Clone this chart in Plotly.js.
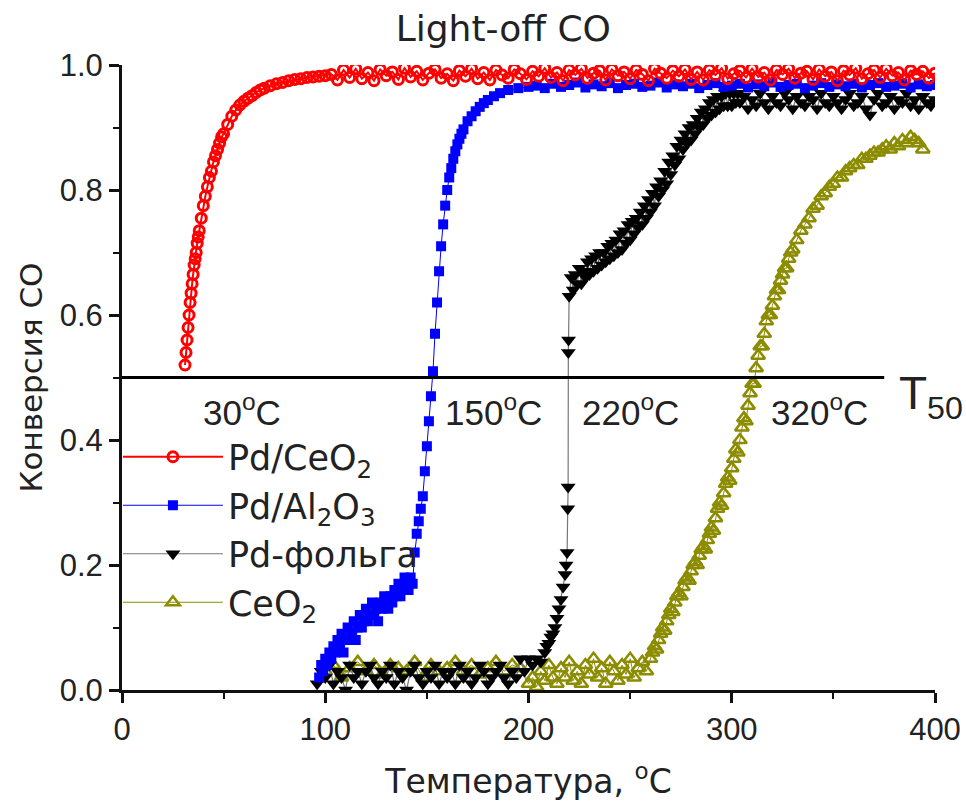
<!DOCTYPE html>
<html><head><meta charset="utf-8">
<script src="https://cdn.plot.ly/plotly-3.0.1.min.js"></script>
<style>html,body{margin:0;padding:0;background:#fff;}#chart{width:966px;height:802px;}</style>
</head><body><div id="chart"></div>
<script>
// ---- data ----
const seriesNames = ['Pd/CeO<sub>2</sub>', 'Pd/Al<sub>2</sub>O<sub>3</sub>', 'Pd-фольга', 'CeO<sub>2</sub>'];

const pdCeO2_T = [31,31.5,32,32.5,33,33.5,34,34.5,35,35.5,36,36.5,37,37.5,38,39,40,41,42,43,44,45,46,47,48,49,50,52,54,56,58,60,62,64,66,68,70,73,76,79,82,85,88,91,94,97,100,
103,106,109,112,115,118,121,124,127,130,133,136,139,142,145,148,151,154,157,160,163,166,169,172,175,178,181,184,187,190,193,196,199,202,205,208,211,214,217,220,223,226,229,232,235,238,241,244,247,250,253,256,259,262,265,268,271,274,277,280,283,286,289,292,295,298,301,304,307,310,313,316,319,322,325,328,331,334,337,340,343,346,349,352,355,358,361,364,367,370,373,376,379,382,385,388,391,394,397,400];
const pdCeO2_X = [0.52,0.54,0.56,0.58,0.60,0.62,0.635,0.65,0.665,0.68,0.69,0.70,0.715,0.725,0.735,0.755,0.775,0.79,0.805,0.82,0.83,0.845,0.855,0.865,0.875,0.885,0.89,0.905,0.918,0.928,0.936,0.942,0.947,0.951,0.956,0.96,0.963,0.967,0.97,0.972,0.975,0.977,0.978,0.98,0.981,0.982,0.983,
0.985,0.976,0.992,0.980,0.994,0.978,0.988,0.975,0.993,0.983,
0.989,0.977,0.995,0.981,0.990,0.976,0.987,0.993,0.979,0.986,
0.975,0.991,0.982,0.994,0.978,0.988,0.976,0.992,0.984,0.979,
0.993,0.986,0.977,0.990,0.982,0.995,0.980,0.988,0.975,0.992,
0.984,0.994,0.979,0.987,0.991,0.976,0.993,0.983,0.989,0.978,
0.992,0.985,0.975,0.994,0.987,0.979,0.991,0.982,0.993,0.977,
0.989,0.976,0.992,0.984,0.995,0.978,0.986,0.991,0.980,0.994,
0.981,0.988,0.976,0.992,0.985,0.994,0.979,0.987,0.990,0.977,
0.993,0.982,0.989,0.975,0.991,0.984,0.995,0.978,0.986,0.992,
0.980,0.994,0.983,0.988,0.976,0.991,0.985,0.990,0.979,0.987];

const pdAl2O3_T = [97,98,99,100,101,102,103,104,105,106,107,108,109,110,111,112,113,114,115,116,117,118,119,120,121,122,123,124,125,126,127,128,129,130,131,132,133,134,135,136,137,138,139,140,141,142,143,144,145,146,147,148,149,150,151,152,153,154,155,156,157,158,159,160,161,162,163,164,165,166,167,168,170,172,174,176,178,180,183,186,190,195,200,204,208,212,216,220,224,228,232,236,240,244,248,252,256,260,264,268,272,276,280,284,288,292,296,300,304,308,312,316,320,324,328,332,336,340,344,348,352,356,360,364,368,372,376,380,384,388,392,396,400];
const pdAl2O3_X = [0.02,0.04,0.03,0.05,0.04,0.06,0.05,0.07,0.06,0.08,0.07,0.09,0.06,0.08,0.10,0.08,0.09,0.11,0.08,0.10,0.12,0.10,0.11,0.13,0.11,0.12,0.14,0.12,0.13,0.11,0.14,0.13,0.15,0.14,0.13,0.15,0.14,0.16,0.15,0.17,0.15,0.16,0.18,0.17,0.16,0.18,0.17,
0.22,0.25,0.27,0.29,0.31,0.35,0.39,0.43,0.47,0.51,0.57,0.62,0.67,0.71,0.745,0.775,0.80,0.82,0.835,0.85,0.862,0.873,0.882,0.89,0.897,
0.91,0.918,0.926,0.933,0.939,0.944,0.95,0.955,0.96,0.963,0.965,
0.967,0.963,0.970,0.965,0.968,0.972,0.964,0.969,0.966,0.971,0.963,0.968,0.970,0.965,0.967,0.972,0.964,0.969,0.966,0.970,0.963,0.968,0.971,0.965,0.967,0.970,0.964,0.969,0.966,0.972,0.965,0.968,0.970,0.963,0.967,0.971,0.965,0.969,0.966,0.970,0.964,0.968,0.971,0.965,0.967,0.970,0.964,0.969,0.966,0.968];

const pdFoil_T = [96,98,100,102,104,106,108,110,112,114,116,118,120,122,124,126,128,130,132,134,136,138,140,142,144,146,148,150,152,154,156,158,160,162,164,166,168,170,172,174,176,178,180,182,184,186,188,190,192,194,196,198,200,
202,204,206,208,209,210,211,212,213,214,215,216,217,218,218.5,219,219.3,219.5,219.6,219.7,
220,221,222,223,224,225,226,227,228,229,230,231,232,233,234,235,236,237,238,239,240,241,242,243,244,245,246,247,248,249,250,251,252,253,254,255,256,257,258,259,260,261,262,263,264,265,266,267,268,269,270,271,272,273,274,275,276,277,278,279,280,281,282,283,284,285,286,287,288,289,290,291,292,293,294,295,296,297,298,299,300,301,302,303,304,
306,308,310,312,314,316,318,320,322,324,326,328,330,332,334,336,338,340,342,344,346,348,350,352,354,356,358,360,362,364,366,368,370,372,374,376,378,380,382,384,386,388,390,392,394,396,398,400];
const pdFoil_X = [0.01,0.03,0.02,0.04,0.01,0.03,0.02,0.00,0.04,0.02,0.03,0.01,0.03,0.04,0.02,0.01,0.03,0.02,0.04,0.01,0.03,0.02,0.00,0.03,0.04,0.02,0.01,0.03,0.02,0.04,0.01,0.03,0.02,0.03,0.01,0.04,0.02,0.03,0.01,0.02,0.04,0.03,0.01,0.02,0.03,0.04,0.02,0.01,0.03,0.02,0.05,0.03,0.05,
0.04,0.05,0.045,0.06,0.07,0.075,0.085,0.09,0.10,0.115,0.13,0.145,0.165,0.185,0.20,0.22,0.29,0.325,0.54,0.56,
0.63,0.66,0.64,0.665,0.65,0.675,0.65,0.67,0.66,0.685,
0.665,0.69,0.67,0.695,0.675,0.70,0.68,0.70,0.685,0.71,
0.69,0.715,0.695,0.72,0.70,0.73,0.705,0.735,0.715,0.745,
0.72,0.75,0.73,0.755,0.74,0.765,0.745,0.775,0.755,0.785,
0.765,0.795,0.775,0.805,0.79,0.815,0.80,0.83,0.81,0.845,
0.825,0.855,0.84,0.87,0.85,0.88,0.865,0.89,0.875,0.90,
0.88,0.905,0.89,0.915,0.90,0.925,0.905,0.93,0.915,0.94,
0.92,0.945,0.925,0.95,0.93,0.95,0.935,0.955,0.935,0.955,
0.935,0.955,0.94,0.955,0.94,
0.95,0.93,0.945,0.935,0.955,0.94,0.93,0.95,0.94,0.935,0.955,0.945,0.93,0.95,0.94,0.935,0.95,0.945,0.93,0.955,0.94,0.935,0.95,0.94,0.93,0.945,0.955,0.935,0.94,0.95,0.93,0.92,0.945,0.955,0.935,0.94,0.95,0.93,0.945,0.94,0.955,0.935,0.945,0.93,0.95,0.94,0.935,0.945];

const ceO2_T = [100,104,108,112,116,120,124,128,132,136,140,144,148,152,156,160,164,168,172,176,180,184,188,192,196,
200,202,204,206,208,210,212,214,216,218,220,222,224,226,228,230,232,234,236,238,240,242,244,246,248,250,252,254,256,258,
260,261,262,263,264,265,266,267,268,269,270,271,272,273,274,275,276,277,278,279,280,281,282,283,284,285,286,287,288,289,290,291,292,293,294,295,296,297,298,299,300,301,302,303,304,305,306,307,308,309,310,311,312,313,314,315,316,317,318,319,320,321,322,323,324,325,326,327,328,329,330,
332,334,336,338,340,342,344,346,348,350,352,354,356,358,360,362,364,366,368,370,372,374,376,378,380,382,384,386,388,390,392,394];
const ceO2_X = [0.03,0.04,0.02,0.035,0.045,0.03,0.04,0.025,0.04,0.035,0.03,0.045,0.02,0.04,0.03,0.035,0.045,0.03,0.04,0.025,0.035,0.045,0.03,0.04,0.035,
0.01,0.02,0.005,0.03,0.015,0.04,0.02,0.01,0.035,0.02,0.045,0.015,0.03,0.01,0.04,0.025,0.05,0.02,0.035,0.01,0.045,0.03,0.015,0.04,0.025,0.05,0.02,0.035,0.045,0.03,
0.05,0.06,0.07,0.065,0.08,0.09,0.10,0.095,0.11,0.12,
0.13,0.125,0.14,0.15,0.155,0.15,0.165,0.175,0.18,0.175,
0.19,0.20,0.205,0.20,0.215,0.225,0.23,0.225,0.24,0.25,
0.26,0.255,0.275,0.29,0.30,0.295,0.315,0.33,0.34,0.335,
0.355,0.37,0.385,0.38,0.40,0.42,0.435,0.43,0.455,0.475,
0.49,0.49,0.515,0.535,0.55,0.55,0.57,0.59,0.60,0.60,
0.615,0.63,0.64,0.64,0.655,0.665,0.675,0.675,0.69,0.70,0.705,
0.72,0.735,0.745,0.755,0.77,0.775,0.79,0.795,0.805,0.81,0.82,0.82,0.83,0.835,0.84,0.84,0.85,0.85,0.855,0.86,0.86,0.865,0.87,0.865,0.875,0.87,0.88,0.875,0.885,0.88,0.875,0.865];

// T50 reference line and labels
const t50Level = [0.5, 0.5];
const t50LineT = [0, 375];
const t50Labels = ['30<sup>o</sup>C', '150<sup>o</sup>C', '220<sup>o</sup>C', '320<sup>o</sup>C'];
const t50LabelT = [59, 183, 250, 343];

const FONT = 'Liberation Sans, Arial, sans-serif';
const WIDE = 'DejaVu Sans, sans-serif';
const TXT = '#222';

const traces = [
  {x: ceO2_T, y: ceO2_X, name: seriesNames[3], legendrank: 4, mode: 'lines+markers',
   line: {color: '#8c8c00', width: 1},
   marker: {symbol: 'triangle-up-open', size: 12, color: '#8c8c00', line: {width: 2.5, color: '#8c8c00'}}},
  {x: pdFoil_T, y: pdFoil_X, name: seriesNames[2], legendrank: 3, mode: 'lines+markers',
   line: {color: '#777777', width: 1.2},
   marker: {symbol: 'triangle-down', size: 13, color: '#000000'}},
  {x: pdAl2O3_T, y: pdAl2O3_X, name: seriesNames[1], legendrank: 2, mode: 'lines+markers',
   line: {color: '#0000ff', width: 1},
   marker: {symbol: 'square', size: 10, color: '#0000ff'}},
  {x: pdCeO2_T, y: pdCeO2_X, name: seriesNames[0], legendrank: 1, mode: 'lines+markers',
   line: {color: '#ff0000', width: 2},
   marker: {symbol: 'circle-open', size: 10, color: '#ff0000', line: {width: 3, color: '#ff0000'}}},
  {x: t50LineT, y: t50Level, mode: 'lines', showlegend: false, hoverinfo: 'skip',
   line: {color: '#000000', width: 3}}
];

const annotations = t50Labels.map((t, i) => ({
  x: t50LabelT[i], y: 0.448, xref: 'x', yref: 'y', text: t, showarrow: false,
  xanchor: 'center', yanchor: 'middle', font: {family: FONT, size: 35, color: TXT}
}));
annotations.push({x: 381.5, y: 0.47, xref: 'x', yref: 'y', text: 'T<sub>50</sub>', showarrow: false,
  xanchor: 'left', yanchor: 'middle', font: {family: FONT, size: 46, color: TXT}});

const layout = {
  width: 966, height: 802,
  paper_bgcolor: '#ffffff', plot_bgcolor: '#ffffff',
  margin: {l: 122, r: 31, t: 65, b: 112, pad: 0},
  title: {text: 'Light-off CO', x: 0.521, xanchor: 'center', y: 0.965, yanchor: 'middle',
          font: {family: WIDE, size: 36, color: TXT}},
  xaxis: {range: [0, 400], showline: true, linecolor: '#111', linewidth: 3, mirror: false,
          ticks: 'outside', ticklen: 10, tickwidth: 3, tickcolor: '#111', dtick: 100, tick0: 0,
          minor: {dtick: 50, ticks: 'outside', ticklen: 6, tickwidth: 2, tickcolor: '#111'},
          showgrid: false, zeroline: false,
          tickfont: {family: FONT, size: 31, color: TXT},
          title: {text: 'Температура, <sup>o</sup>C', standoff: 24, font: {family: WIDE, size: 33, color: TXT}}},
  yaxis: {range: [0, 1], showline: true, linecolor: '#111', linewidth: 3, mirror: false,
          ticks: 'outside', ticklen: 10, tickwidth: 3, tickcolor: '#111', dtick: 0.2, tick0: 0, tickformat: '.1f',
          minor: {dtick: 0.1, ticks: 'outside', ticklen: 6, tickwidth: 2, tickcolor: '#111'},
          showgrid: false, zeroline: false,
          tickfont: {family: FONT, size: 31, color: TXT},
          title: {text: 'Конверсия CO', standoff: 8, font: {family: WIDE, size: 31, color: TXT}}},
  legend: {x: -0.005, y: 0.42, xanchor: 'left', yanchor: 'top', bgcolor: 'rgba(0,0,0,0)',
           itemwidth: 100, font: {family: WIDE, size: 35, color: TXT}},
  showlegend: true,
  annotations: annotations
};

Plotly.newPlot('chart', traces, layout, {displayModeBar: false, staticPlot: true});
</script>
</body></html>
